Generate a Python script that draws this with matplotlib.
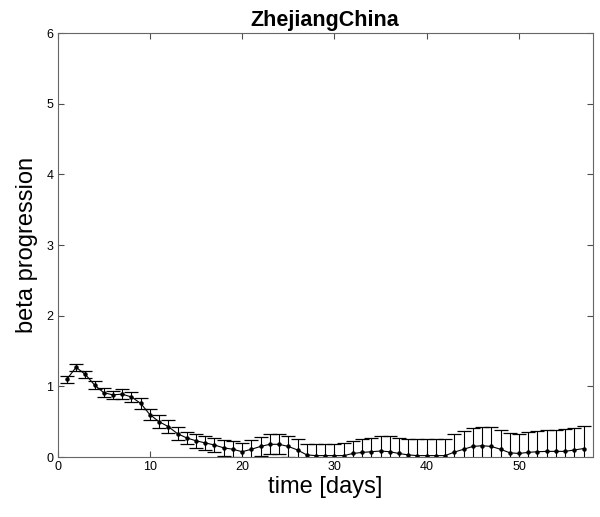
import matplotlib.pyplot as plt
import numpy as np

plt.rcParams['font.family'] = ['Liberation Sans', 'DejaVu Sans']

# beta progression per day, mean and error half-width
days = np.arange(1, 58)
beta = [1.10, 1.27, 1.17, 1.02, 0.91, 0.88, 0.89, 0.85, 0.76, 0.60,
        0.50, 0.43, 0.33, 0.27, 0.23, 0.20, 0.17, 0.13, 0.11, 0.075,
        0.11, 0.15, 0.18, 0.18, 0.15, 0.10, 0.03, 0.02, 0.02, 0.02,
        0.02, 0.05, 0.065, 0.075, 0.085, 0.075, 0.05, 0.03, 0.02, 0.02,
        0.02, 0.02, 0.07, 0.11, 0.15, 0.16, 0.15, 0.11, 0.06, 0.05,
        0.066, 0.075, 0.08, 0.08, 0.08, 0.10, 0.12]
err = [0.05, 0.05, 0.05, 0.06, 0.06, 0.06, 0.07, 0.07, 0.08, 0.08,
       0.09, 0.09, 0.09, 0.09, 0.10, 0.10, 0.10, 0.11, 0.11, 0.12,
       0.13, 0.14, 0.14, 0.14, 0.15, 0.15, 0.16, 0.16, 0.17, 0.17,
       0.18, 0.18, 0.19, 0.20, 0.21, 0.22, 0.22, 0.22, 0.23, 0.23,
       0.24, 0.24, 0.25, 0.26, 0.26, 0.27, 0.27, 0.27, 0.28, 0.28,
       0.29, 0.29, 0.30, 0.30, 0.31, 0.31, 0.32]

fig = plt.figure(figsize=(6, 5.17), dpi=100)
ax = fig.add_axes([0.096, 0.116, 0.892, 0.82])

ax.errorbar(days, beta, yerr=err, fmt='-o', color='k', markersize=2.2,
            linewidth=0.8, elinewidth=0.8, capsize=5, capthick=0.9)

ax.set_xlim(0, 58)
ax.set_ylim(0, 6)
ax.set_xticks([0, 10, 20, 30, 40, 50])
ax.set_yticks([0, 1, 2, 3, 4, 5, 6])
ax.tick_params(direction='in', top=True, right=True, labelsize=9,
               color='0.3', length=4, pad=3)
for s in ax.spines.values():
    s.set_color('0.4')
    s.set_linewidth(0.8)

ax.set_xlabel('time [days]', fontsize=17, labelpad=2)
ax.set_ylabel('beta progression', fontsize=17, labelpad=6)
ax.set_title('ZhejiangChina', fontsize=15.5, fontweight='bold', pad=5)

fig.savefig('out.png', dpi=100)
